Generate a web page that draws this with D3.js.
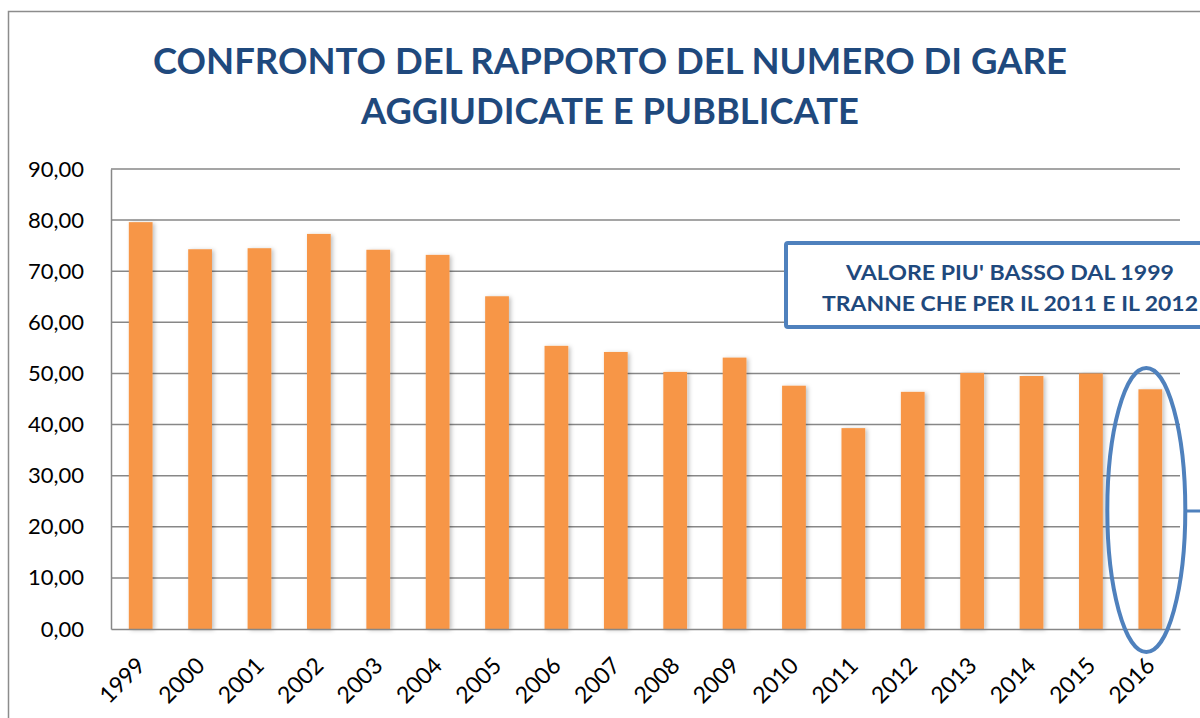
<!DOCTYPE html>
<html>
<head>
<meta charset="utf-8">
<script src="https://cdn.jsdelivr.net/npm/d3@7"></script>
<style>
  body { margin: 0; background: #fff; }
  svg { display: block; font-family: Lato, "Open Sans", sans-serif; }
</style>
</head>
<body>
<svg id="chart" width="1200" height="718"></svg>
<script>
// data
var years = ["1999", "2000", "2001", "2002", "2003", "2004", "2005", "2006", "2007",
    "2008", "2009", "2010", "2011", "2012", "2013", "2014", "2015", "2016"];
var ratios = [79.6, 74.3, 74.5, 77.3, 74.2, 73.2, 65.1, 55.4, 54.2,
    50.3, 53.1, 47.6, 39.3, 46.4, 50.1, 49.5, 50.0, 46.9];
var yTicks = [0, 10, 20, 30, 40, 50, 60, 70, 80, 90];
var titleLines = ["CONFRONTO DEL RAPPORTO DEL NUMERO DI GARE", "AGGIUDICATE E PUBBLICATE"];
var noteLines = ["VALORE PIU' BASSO DAL 1999", "TRANNE CHE PER IL 2011 E IL 2012"];
var highlightYear = "2016";

var svg = d3.select("#chart");
var plot = { left: 111, right: 1180, top: 169, bottom: 629 };

var x = d3.scaleBand()
    .domain(years)
    .range([plot.left, plot.right])
    .paddingInner(0.6)
    .paddingOuter(0.3);

var y = d3.scaleLinear()
    .domain([0, 90])
    .range([plot.bottom, plot.top]);

// drop shadow for the bars
var defs = svg.append("defs");
var f = defs.append("filter").attr("id", "shadow")
    .attr("x", "-30%").attr("y", "-10%").attr("width", "160%").attr("height", "120%");
f.append("feDropShadow")
    .attr("dx", 2).attr("dy", 1).attr("stdDeviation", 2)
    .attr("flood-color", "#000").attr("flood-opacity", 0.25);

// outer chart frame (cut off at right and bottom)
svg.append("path")
    .attr("d", "M8.5,718 V11.5 H1200")
    .attr("fill", "none")
    .attr("stroke", "#8c8c8c")
    .attr("stroke-width", 1.5);

// title
svg.append("g").selectAll("text")
    .data(titleLines)
    .enter().append("text")
    .attr("x", 610)
    .attr("y", (d, i) => 74 + i * 50)
    .attr("text-anchor", "middle")
    .attr("font-size", 37)
    .attr("font-weight", "bold")
    .attr("fill", "#1f497d")
    .attr("textLength", (d, i) => i === 0 ? 914 : 498)
    .attr("lengthAdjust", "spacingAndGlyphs")
    .text(d => d);

// gridlines
svg.append("g")
    .selectAll("line")
    .data(yTicks.slice(1))
    .enter().append("line")
    .attr("x1", plot.left).attr("x2", plot.right)
    .attr("y1", d => y(d)).attr("y2", d => y(d))
    .attr("stroke", "#878787")
    .attr("stroke-width", 1.5);

// y axis
var yAxis = svg.append("g")
    .attr("transform", "translate(" + plot.left + ",0)")
    .call(d3.axisLeft(y).tickValues(yTicks).tickSize(0).tickPadding(27)
        .tickFormat(d => d3.format(".2f")(d).replace(".", ",")));
yAxis.select(".domain").attr("stroke", "#878787").attr("stroke-width", 1.5);
yAxis.selectAll("text")
    .attr("font-size", 22)
    .attr("font-family", "Lato, sans-serif")
    .attr("fill", "#000");

// bars
svg.append("g")
    .selectAll("rect")
    .data(years)
    .enter().append("rect")
    .attr("x", d => x(d))
    .attr("width", x.bandwidth())
    .attr("y", (d, i) => y(ratios[i]))
    .attr("height", (d, i) => y(0) - y(ratios[i]))
    .attr("fill", "#f79646")
    .attr("filter", "url(#shadow)");

// x axis
var xAxis = svg.append("g")
    .attr("transform", "translate(0," + plot.bottom + ")")
    .call(d3.axisBottom(x).tickSize(0).tickPadding(0));
xAxis.select(".domain").attr("stroke", "#878787").attr("stroke-width", 1.5);
xAxis.selectAll("text")
    .attr("font-size", 23)
    .attr("font-family", "Lato, sans-serif")
    .attr("fill", "#000")
    .attr("text-anchor", "end")
    .attr("dy", 0)
    .attr("transform", "translate(6,38) rotate(-45)");

// annotation box
var box = svg.append("g");
box.append("rect")
    .attr("x", 786).attr("y", 243)
    .attr("width", 440).attr("height", 84)
    .attr("rx", 2)
    .attr("fill", "#fff")
    .attr("stroke", "#4f81bd")
    .attr("stroke-width", 4);
box.selectAll("text")
    .data(noteLines)
    .enter().append("text")
    .attr("x", 1010)
    .attr("y", (d, i) => 280 + i * 31)
    .attr("text-anchor", "middle")
    .attr("font-size", 20)
    .attr("font-weight", "bold")
    .attr("fill", "#1f497d")
    .attr("textLength", (d, i) => i === 0 ? 328 : 376)
    .attr("lengthAdjust", "spacingAndGlyphs")
    .text(d => d);

// ellipse round the last bar and its connector
var cx = x(highlightYear) + x.bandwidth() / 2 - 4;
svg.append("ellipse")
    .attr("cx", cx).attr("cy", 510)
    .attr("rx", 39).attr("ry", 142)
    .attr("fill", "none")
    .attr("stroke", "#4f81bd")
    .attr("stroke-width", 4);
svg.append("line")
    .attr("x1", cx + 39).attr("x2", 1200)
    .attr("y1", 511).attr("y2", 511)
    .attr("stroke", "#4f81bd")
    .attr("stroke-width", 3);
</script>
</body>
</html>
